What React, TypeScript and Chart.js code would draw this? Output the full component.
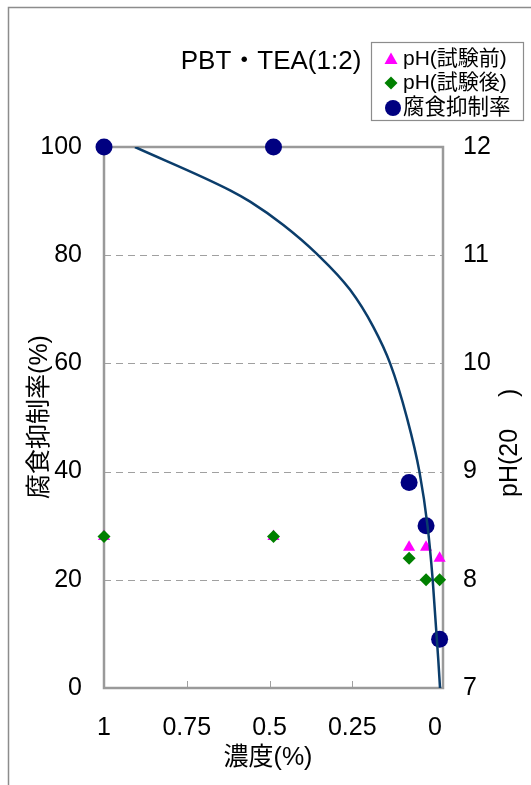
import React, { useEffect, useRef } from "react";
import { Chart, registerables } from "chart.js";

Chart.register(...registerables);

// ---- data ----
const concentration = [1, 0.5, 0.1, 0.05, 0.01];
const phBefore = [8.4, 8.4, 8.3, 8.3, 8.2];
const phAfter = [8.4, 8.4, 8.2, 8.0, 8.0];
const inhibitionRate = [100, 100, 38, 30, 9];

const curveConc = [0.9086, 0.628, 0.569, 0.471, 0.373, 0.274, 0.206, 0.156, 0.107, 0.0693, 0.0457, 0.0304, 0.0139, 0.0088];
const curveRate = [100, 92.0, 89.9, 85.6, 80.3, 73.6, 66.8, 60.0, 50.1, 39.9, 30.0, 20.0, 5.2, 0];

const xTickValues = [1, 0.75, 0.5, 0.25, 0];
const xTickLabels = ["1", "0.75", "0.5", "0.25", "0"];

const titleText = "PBT・TEA(1:2)";
const legendLabels = ["pH(試験前)", "pH(試験後)", "腐食抑制率"];
const xTitle = "濃度(%)";
const yTitle = "腐食抑制率(%)";
const y2Title = "pH(20　 )";

const FONT = '"Liberation Sans", "Noto Sans CJK JP", sans-serif';
const C_BEFORE = "#FF00FF";
const C_AFTER = "#008000";
const C_RATE = "#000080";
const C_CURVE = "#0B3D6B";
const C_GRID = "#A0A0A0";

const decorPlugin = {
  id: "decor",
  beforeDraw(chart: any) {
    const { ctx, width, height } = chart;
    ctx.save();
    ctx.fillStyle = "#fff";
    ctx.fillRect(0, 0, width, height);
    ctx.strokeStyle = "#8C8C8C";
    ctx.lineWidth = 1.5;
    ctx.strokeRect(8.5, 7.5, 1000, 1000);
    ctx.restore();
  },
  beforeDatasetsDraw(chart: any) {
    const { ctx, chartArea: a, scales } = chart;
    const y = scales.y;
    const xl = scales.xl;
    ctx.save();
    ctx.strokeStyle = C_GRID;
    ctx.lineWidth = 1;
    ctx.setLineDash([7, 5]);
    for (const v of [20, 40, 60, 80]) {
      const py = Math.round(y.getPixelForValue(v)) + 0.5;
      ctx.beginPath();
      ctx.moveTo(a.left, py);
      ctx.lineTo(a.right, py);
      ctx.stroke();
    }
    ctx.setLineDash([]);
    for (const v of [0.75, 0.5, 0.25]) {
      const px = Math.round(xl.getPixelForValue(v)) + 0.5;
      ctx.beginPath();
      ctx.moveTo(px, a.bottom);
      ctx.lineTo(px, a.bottom - 7);
      ctx.stroke();
    }
    ctx.strokeStyle = "#9A9A9A";
    ctx.lineWidth = 2.5;
    ctx.strokeRect(a.left, a.top, a.right - a.left, a.bottom - a.top);
    ctx.restore();
  },
  afterDraw(chart: any) {
    const { ctx } = chart;
    ctx.save();
    ctx.fillStyle = "#000";
    ctx.textAlign = "center";
    ctx.textBaseline = "middle";
    ctx.font = `26px ${FONT}`;
    ctx.fillText(titleText, 271, 62);

    ctx.font = `25px ${FONT}`;
    ctx.fillText(xTitle, 268, 758);

    ctx.save();
    ctx.translate(40, 417);
    ctx.rotate(-Math.PI / 2);
    ctx.fillText(yTitle, 0, 0);
    ctx.restore();

    ctx.save();
    ctx.translate(510, 497);
    ctx.rotate(-Math.PI / 2);
    ctx.textAlign = "left";
    ctx.fillText(y2Title, 0, 0);
    ctx.restore();

    // legend
    ctx.fillStyle = "#fff";
    ctx.fillRect(371.5, 42.5, 152, 78);
    ctx.strokeStyle = "#8C8C8C";
    ctx.lineWidth = 1.2;
    ctx.strokeRect(371.5, 42.5, 152, 78);
    const rows = [59, 83, 108];
    ctx.fillStyle = C_BEFORE;
    ctx.beginPath();
    ctx.moveTo(391, rows[0] - 6.5);
    ctx.lineTo(397.5, rows[0] + 5);
    ctx.lineTo(384.5, rows[0] + 5);
    ctx.closePath();
    ctx.fill();
    ctx.fillStyle = C_AFTER;
    ctx.beginPath();
    ctx.moveTo(391, rows[1] - 6.5);
    ctx.lineTo(397.5, rows[1]);
    ctx.lineTo(391, rows[1] + 6.5);
    ctx.lineTo(384.5, rows[1]);
    ctx.closePath();
    ctx.fill();
    ctx.fillStyle = C_RATE;
    ctx.beginPath();
    ctx.arc(393, rows[2], 8, 0, Math.PI * 2);
    ctx.fill();
    ctx.fillStyle = "#000";
    ctx.textAlign = "left";
    ctx.textBaseline = "middle";
    ctx.font = `21px ${FONT}`;
    ctx.fillText(legendLabels[0], 403, rows[0]);
    ctx.fillText(legendLabels[1], 403, rows[1]);
    ctx.font = `21.5px ${FONT}`;
    ctx.fillText(legendLabels[2], 403, rows[2]);
    ctx.restore();
  },
};

export default function App() {
  const canvasRef = useRef<HTMLCanvasElement | null>(null);

  useEffect(() => {
    const canvas = canvasRef.current;
    if (!canvas) return;
    const toPts = (xs: number[], ys: number[]) => xs.map((v, i) => ({ x: v, y: ys[i] }));

    const chart = new Chart(canvas, {
      type: "scatter",
      data: {
        datasets: [
          {
            type: "line",
            label: "curve",
            data: toPts(curveConc, curveRate),
            xAxisID: "x",
            yAxisID: "y",
            borderColor: C_CURVE,
            borderWidth: 2.5,
            pointRadius: 0,
            showLine: true,
            fill: false,
            cubicInterpolationMode: "monotone",
          } as any,
          {
            label: legendLabels[2],
            data: toPts(concentration, inhibitionRate),
            xAxisID: "x",
            yAxisID: "y",
            pointStyle: "circle",
            pointRadius: 8.5,
            pointHoverRadius: 8.5,
            backgroundColor: C_RATE,
            borderColor: C_RATE,
            borderWidth: 0,
            clip: false,
          } as any,
          {
            label: legendLabels[1],
            data: toPts(concentration, phAfter),
            xAxisID: "x",
            yAxisID: "y2",
            pointStyle: "rectRot",
            pointRadius: 6.5,
            pointHoverRadius: 6.5,
            backgroundColor: C_AFTER,
            borderColor: C_AFTER,
            borderWidth: 0,
            clip: false,
          } as any,
          {
            label: legendLabels[0],
            data: toPts(concentration, phBefore),
            xAxisID: "x",
            yAxisID: "y2",
            pointStyle: "triangle",
            pointRadius: 7,
            pointHoverRadius: 7,
            backgroundColor: C_BEFORE,
            borderColor: C_BEFORE,
            borderWidth: 0,
            clip: false,
          } as any,
        ],
      },
      options: {
        responsive: false,
        animation: false,
        devicePixelRatio: 1,
        events: [],
        layout: { padding: { top: 147, left: 0, right: 0, bottom: 0 } },
        plugins: {
          legend: { display: false },
          title: { display: false },
          tooltip: { enabled: false },
        },
        scales: {
          x: {
            type: "linear",
            display: false,
            min: 0,
            max: 1,
            reverse: true,
          },
          xl: {
            type: "linear",
            position: "bottom",
            axis: "x",
            min: -0.024,
            max: 1,
            reverse: true,
            grid: { display: false, drawTicks: false },
            border: { display: false },
            afterBuildTicks: (s: any) => {
              s.ticks = xTickValues.map((v) => ({ value: v }));
            },
            ticks: {
              padding: 25,
              color: "#000",
              font: { family: FONT, size: 25 },
              maxRotation: 0,
              autoSkip: false,
              callback: (v: any) => {
                const i = xTickValues.indexOf(Number(v));
                return i >= 0 ? xTickLabels[i] : "";
              },
            },
            afterFit: (s: any) => {
              s.height = 97;
            },
          },
          y: {
            type: "linear",
            position: "left",
            min: 0,
            max: 100,
            grid: { display: false, drawTicks: false },
            border: { display: false },
            ticks: {
              stepSize: 20,
              padding: 22,
              color: "#000",
              font: { family: FONT, size: 25 },
            },
            afterFit: (s: any) => {
              s.width = 104;
            },
          },
          y2: {
            type: "linear",
            position: "right",
            min: 7,
            max: 12,
            grid: { display: false, drawTicks: false },
            border: { display: false },
            ticks: {
              stepSize: 1,
              padding: 20,
              color: "#000",
              font: { family: FONT, size: 25 },
            },
            afterFit: (s: any) => {
              s.width = 88;
            },
          },
        },
      } as any,
      plugins: [decorPlugin],
    });
    return () => chart.destroy();
  }, []);

  return (
    <div style={{ position: "fixed", left: 0, top: 0, width: 531, height: 785, background: "#fff" }}>
      <canvas ref={canvasRef} width={531} height={785} style={{ width: 531, height: 785, display: "block" }} />
    </div>
  );
}
